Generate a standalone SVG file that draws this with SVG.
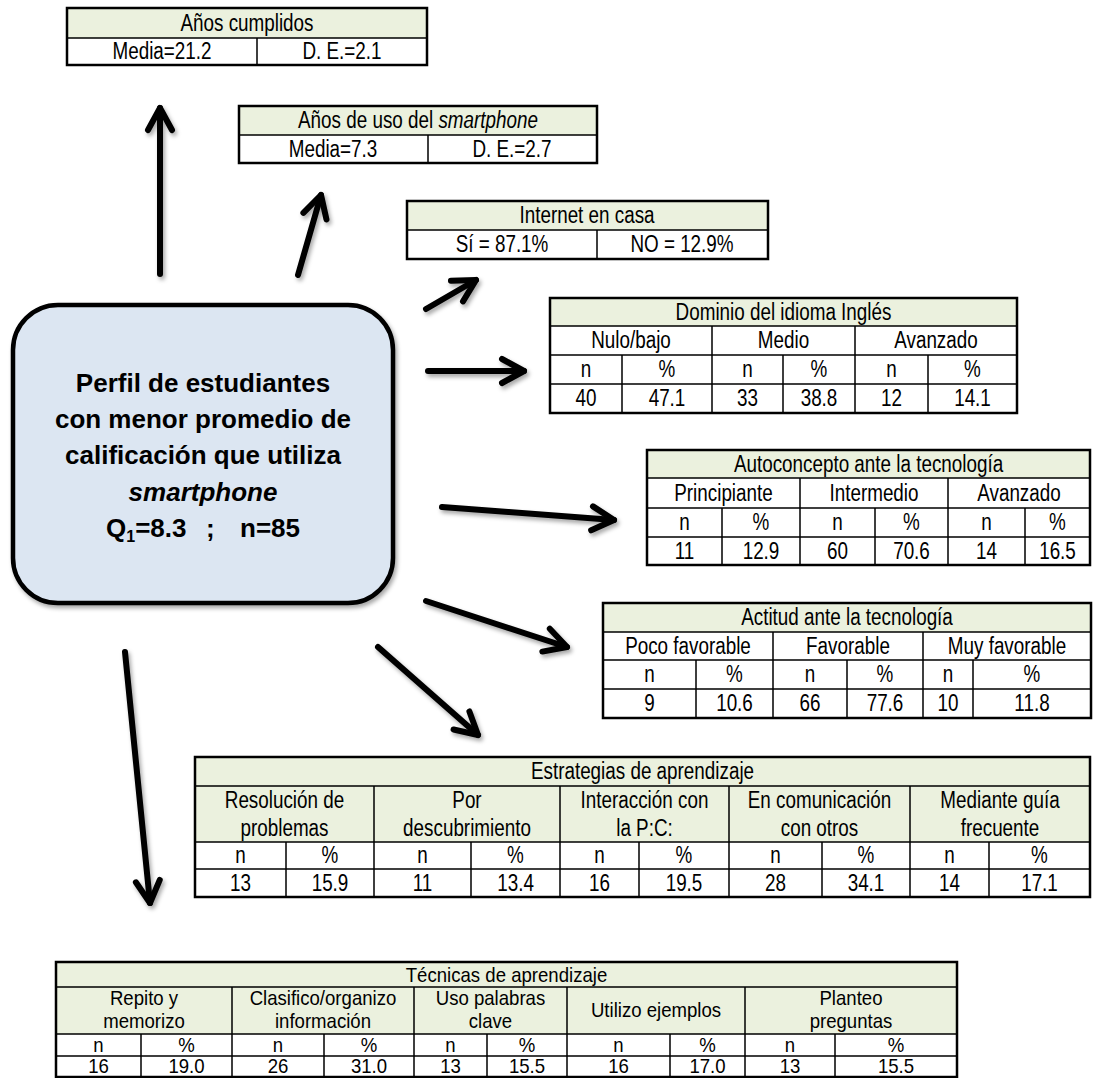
<svg xmlns="http://www.w3.org/2000/svg" width="1094" height="1078" viewBox="0 0 1094 1078">
<style>
.t{font-family:"Liberation Sans Narrow","Liberation Sans",Arial,sans-serif;font-size:23px;text-anchor:middle;fill:#000;transform-box:fill-box;transform-origin:center;transform:scaleX(0.82)}
.s{font-size:20px;transform:scaleX(0.93)}
.hd{fill:#ebf1de}
.bd{fill:#fff}
.ob{fill:none;stroke:#000;stroke-width:2.5}
.ln{fill:none;stroke:#000;stroke-width:1.5}
.ar{fill:none;stroke:#000;stroke-width:6;stroke-linecap:round;marker-end:url(#ah)}
.tt{font-family:"Liberation Sans",Arial,sans-serif;font-size:26px;font-weight:bold;text-anchor:middle;fill:#000}
</style>
<defs>
<marker id="ah" markerUnits="userSpaceOnUse" markerWidth="60" markerHeight="60" viewBox="-30 -30 60 60" refX="0" refY="0" orient="auto">
<path d="M-22,-12 L0,0 L-22,12" fill="none" stroke="#000" stroke-width="6" stroke-linecap="round" stroke-linejoin="round"/>
</marker>
<filter id="sh" x="-20%" y="-20%" width="140%" height="140%">
<feDropShadow dx="2" dy="3" stdDeviation="2" flood-color="#000" flood-opacity="0.35"/>
</filter>
</defs>
<rect width="1094" height="1078" fill="#fff"/>

<g id="connectors" filter="url(#sh)">
<line class="ar" x1="160" y1="274" x2="160" y2="108"/>
<line class="ar" x1="298" y1="275" x2="321" y2="195"/>
<line class="ar" x1="426" y1="309" x2="476" y2="280"/>
<line class="ar" x1="428" y1="371" x2="524" y2="371"/>
<line class="ar" x1="442" y1="507" x2="614" y2="520"/>
<line class="ar" x1="426" y1="601" x2="567" y2="647"/>
<line class="ar" x1="378" y1="647" x2="478" y2="735"/>
<line class="ar" x1="125" y1="652" x2="150" y2="903"/>
</g>

<g id="perfil">
<rect x="13" y="305" width="380" height="298" rx="45" ry="45" fill="#dce6f2" stroke="#000" stroke-width="4.5" filter="url(#sh)"/>
<text class="tt" x="203" y="392">Perfil de estudiantes</text>
<text class="tt" x="203" y="428">con menor promedio de</text>
<text class="tt" x="203" y="464">calificación que utiliza</text>
<text class="tt" x="203" y="501" font-style="italic">smartphone</text>
<text class="tt" x="203" y="537" style="text-anchor:start"><tspan x="106">Q</tspan><tspan font-size="16" dy="5">1</tspan><tspan dy="-5">=8.3</tspan><tspan x="206">;</tspan><tspan x="240">n=85</tspan></text>
</g>

<g id="anos-cumplidos">
<rect class="hd" x="67" y="8" width="360" height="30"/>
<rect class="bd" x="67" y="38" width="360" height="27"/>
<path class="ln" d="M67,38H427M257,38V65"/>
<rect class="ob" x="67" y="8" width="360" height="57"/>
<text class="t" x="247" y="31">Años cumplidos</text>
<text class="t" x="162" y="59">Media=21.2</text>
<text class="t" x="342" y="59">D. E.=2.1</text>
</g>

<g id="anos-uso">
<rect class="hd" x="239" y="106" width="358" height="29"/>
<rect class="bd" x="239" y="135" width="358" height="28"/>
<path class="ln" d="M239,135H597M428,135V163"/>
<rect class="ob" x="239" y="106" width="358" height="57"/>
<text class="t" x="418" y="128">Años de uso del <tspan font-style="italic">smartphone</tspan></text>
<text class="t" x="333" y="157">Media=7.3</text>
<text class="t" x="512" y="157">D. E.=2.7</text>
</g>

<g id="internet">
<rect class="hd" x="407" y="201" width="361" height="29"/>
<rect class="bd" x="407" y="230" width="361" height="29"/>
<path class="ln" d="M407,230H768M597,230V259"/>
<rect class="ob" x="407" y="201" width="361" height="58"/>
<text class="t" x="587" y="223">Internet en casa</text>
<text class="t" x="502" y="252">Sí = 87.1%</text>
<text class="t" x="682" y="252">NO = 12.9%</text>
</g>

<g id="ingles">
<rect class="hd" x="550" y="298" width="467" height="28"/>
<rect class="bd" x="550" y="326" width="467" height="87"/>
<path class="ln" d="M550,326H1017M550,355H1017M550,384H1017M712,326V413M855,326V413M622,355V413M783,355V413M928,355V413"/>
<rect class="ob" x="550" y="298" width="467" height="115"/>
<text class="t" x="783.5" y="320">Dominio del idioma Inglés</text>
<text class="t" x="631" y="348">Nulo/bajo</text>
<text class="t" x="783.5" y="348">Medio</text>
<text class="t" x="936" y="348">Avanzado</text>
<text class="t" x="586" y="377">n</text>
<text class="t" x="667" y="377">%</text>
<text class="t" x="747.5" y="377">n</text>
<text class="t" x="819" y="377">%</text>
<text class="t" x="891.5" y="377">n</text>
<text class="t" x="972.5" y="377">%</text>
<text class="t" x="586" y="406">40</text>
<text class="t" x="667" y="406">47.1</text>
<text class="t" x="747.5" y="406">33</text>
<text class="t" x="819" y="406">38.8</text>
<text class="t" x="891.5" y="406">12</text>
<text class="t" x="972.5" y="406">14.1</text>
</g>

<g id="autoconcepto">
<rect class="hd" x="647" y="450" width="443" height="28"/>
<rect class="bd" x="647" y="478" width="443" height="87"/>
<path class="ln" d="M647,478H1090M647,508H1090M647,537H1090M800,478V565M948,478V565M722,508V565M875,508V565M1025,508V565"/>
<rect class="ob" x="647" y="450" width="443" height="115"/>
<text class="t" x="868.5" y="472">Autoconcepto ante la tecnología</text>
<text class="t" x="723.5" y="501">Principiante</text>
<text class="t" x="874" y="501">Intermedio</text>
<text class="t" x="1019" y="501">Avanzado</text>
<text class="t" x="684.5" y="530">n</text>
<text class="t" x="761" y="530">%</text>
<text class="t" x="837.5" y="530">n</text>
<text class="t" x="911.5" y="530">%</text>
<text class="t" x="986.5" y="530">n</text>
<text class="t" x="1057.5" y="530">%</text>
<text class="t" x="684.5" y="559">11</text>
<text class="t" x="761" y="559">12.9</text>
<text class="t" x="837.5" y="559">60</text>
<text class="t" x="911.5" y="559">70.6</text>
<text class="t" x="986.5" y="559">14</text>
<text class="t" x="1057.5" y="559">16.5</text>
</g>

<g id="actitud">
<rect class="hd" x="603" y="603" width="488" height="29"/>
<rect class="bd" x="603" y="632" width="488" height="86"/>
<path class="ln" d="M603,632H1091M603,660H1091M603,689H1091M773,632V718M923,632V718M696,660V718M847,660V718M973,660V718"/>
<rect class="ob" x="603" y="603" width="488" height="115"/>
<text class="t" x="847" y="625">Actitud ante la tecnología</text>
<text class="t" x="688" y="654">Poco favorable</text>
<text class="t" x="848" y="654">Favorable</text>
<text class="t" x="1007" y="654">Muy favorable</text>
<text class="t" x="649.5" y="682">n</text>
<text class="t" x="734.5" y="682">%</text>
<text class="t" x="810" y="682">n</text>
<text class="t" x="885" y="682">%</text>
<text class="t" x="948" y="682">n</text>
<text class="t" x="1032" y="682">%</text>
<text class="t" x="649.5" y="711">9</text>
<text class="t" x="734.5" y="711">10.6</text>
<text class="t" x="810" y="711">66</text>
<text class="t" x="885" y="711">77.6</text>
<text class="t" x="948" y="711">10</text>
<text class="t" x="1032" y="711">11.8</text>
</g>

<g id="estrategias">
<rect class="hd" x="195" y="757" width="895" height="85"/>
<rect class="bd" x="195" y="842" width="895" height="55"/>
<path class="ln" d="M195,786H1090M195,842H1090M195,869H1090M374,786V897M560,786V897M729,786V897M910,786V897M286,842V897M471,842V897M639,842V897M822,842V897M989,842V897"/>
<rect class="ob" x="195" y="757" width="895" height="140"/>
<text class="t" x="642.5" y="779">Estrategias de aprendizaje</text>
<text class="t" x="284.5" y="808">Resolución de</text>
<text class="t" x="284.5" y="836">problemas</text>
<text class="t" x="467" y="808">Por</text>
<text class="t" x="467" y="836">descubrimiento</text>
<text class="t" x="644.5" y="808">Interacción con</text>
<text class="t" x="644.5" y="836">la P:C:</text>
<text class="t" x="819.5" y="808">En comunicación</text>
<text class="t" x="819.5" y="836">con otros</text>
<text class="t" x="1000" y="808">Mediante guía</text>
<text class="t" x="1000" y="836">frecuente</text>
<text class="t" x="240.5" y="863">n</text>
<text class="t" x="330" y="863">%</text>
<text class="t" x="422.5" y="863">n</text>
<text class="t" x="515.5" y="863">%</text>
<text class="t" x="599.5" y="863">n</text>
<text class="t" x="684" y="863">%</text>
<text class="t" x="775.5" y="863">n</text>
<text class="t" x="866" y="863">%</text>
<text class="t" x="949.5" y="863">n</text>
<text class="t" x="1039.5" y="863">%</text>
<text class="t" x="240.5" y="891">13</text>
<text class="t" x="330" y="891">15.9</text>
<text class="t" x="422.5" y="891">11</text>
<text class="t" x="515.5" y="891">13.4</text>
<text class="t" x="599.5" y="891">16</text>
<text class="t" x="684" y="891">19.5</text>
<text class="t" x="775.5" y="891">28</text>
<text class="t" x="866" y="891">34.1</text>
<text class="t" x="949.5" y="891">14</text>
<text class="t" x="1039.5" y="891">17.1</text>
</g>

<g id="tecnicas">
<rect class="hd" x="56" y="962" width="901" height="72"/>
<rect class="bd" x="56" y="1034" width="901" height="43"/>
<path class="ln" d="M56,987H957M56,1034H957M56,1056H957M232,987V1077M414,987V1077M567,987V1077M745,987V1077M141,1034V1077M324,1034V1077M487,1034V1077M670,1034V1077M835,1034V1077"/>
<rect class="ob" x="56" y="962" width="901" height="115"/>
<text class="t s" x="506.5" y="982">Técnicas de aprendizaje</text>
<text class="t s" x="144" y="1005">Repito y</text>
<text class="t s" x="144" y="1028">memorizo</text>
<text class="t s" x="323" y="1005">Clasifico/organizo</text>
<text class="t s" x="323" y="1028">información</text>
<text class="t s" x="490.5" y="1005">Uso palabras</text>
<text class="t s" x="490.5" y="1028">clave</text>
<text class="t s" x="656" y="1017">Utilizo ejemplos</text>
<text class="t s" x="851" y="1005">Planteo</text>
<text class="t s" x="851" y="1028">preguntas</text>
<text class="t s" x="98.5" y="1052">n</text>
<text class="t s" x="186.5" y="1052">%</text>
<text class="t s" x="278" y="1052">n</text>
<text class="t s" x="369" y="1052">%</text>
<text class="t s" x="450.5" y="1052">n</text>
<text class="t s" x="527" y="1052">%</text>
<text class="t s" x="618.5" y="1052">n</text>
<text class="t s" x="707.5" y="1052">%</text>
<text class="t s" x="790" y="1052">n</text>
<text class="t s" x="896" y="1052">%</text>
<text class="t s" x="98.5" y="1073">16</text>
<text class="t s" x="186.5" y="1073">19.0</text>
<text class="t s" x="278" y="1073">26</text>
<text class="t s" x="369" y="1073">31.0</text>
<text class="t s" x="450.5" y="1073">13</text>
<text class="t s" x="527" y="1073">15.5</text>
<text class="t s" x="618.5" y="1073">16</text>
<text class="t s" x="707.5" y="1073">17.0</text>
<text class="t s" x="790" y="1073">13</text>
<text class="t s" x="896" y="1073">15.5</text>
</g>
</svg>
